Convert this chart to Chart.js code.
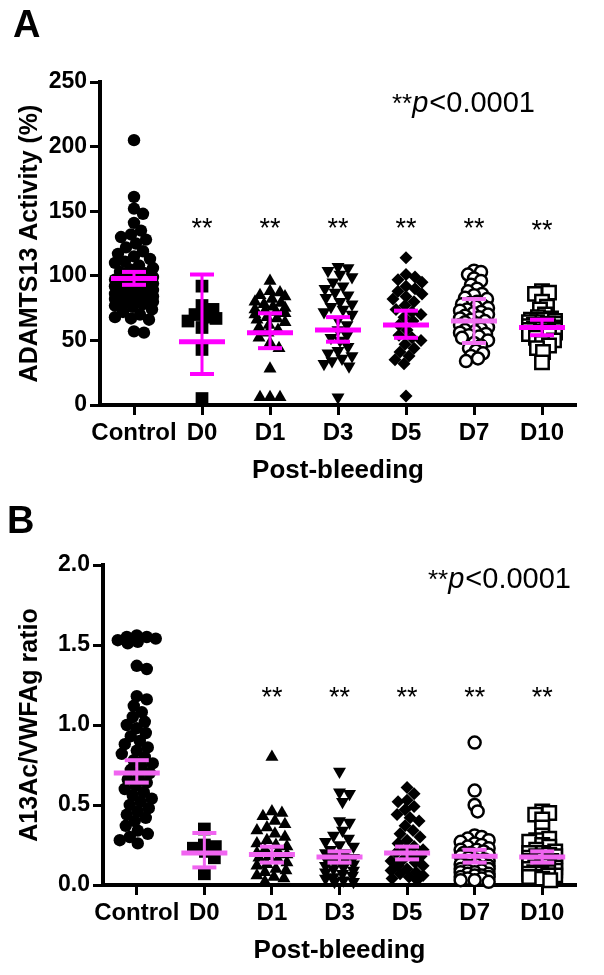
<!DOCTYPE html>
<html>
<head>
<meta charset="utf-8">
<script src="https://cdn.jsdelivr.net/npm/chart.js@4.4.1/dist/chart.umd.min.js"></script>
<style>
  html, body { margin: 0; padding: 0; background: #fff; }
  canvas { position: absolute; left: 0; }
  #chartA { top: 0; }
  #chartB { top: 490px; }
</style>
</head>
<body>
<canvas id="chartA" width="604" height="490"></canvas>
<canvas id="chartB" width="604" height="485"></canvas>
<script>
// Groups on the x axis
const groups = ['Control', 'D0', 'D1', 'D3', 'D5', 'D7', 'D10'];

// Panel A - ADAMTS13 activity (%) per subject
const activityControl = [205, 161, 152, 148, 141, 135, 132, 130, 128, 125, 122, 119, 117, 115, 113, 111, 110, 108, 106, 105,
  103, 102, 100, 99, 98, 97, 96, 95, 94, 93, 92, 91, 90, 89, 88, 87, 86, 85, 84, 84, 83, 82, 81, 80, 79, 78, 77, 76, 74, 72,
  70, 68, 67, 66, 57, 56];
const activityD0 = [92, 77, 74, 70, 68, 67, 65, 60, 43, 5];
const activityD1 = [96, 88, 87, 85, 84, 82, 80, 79, 78, 76, 75, 74, 73, 72, 71, 70, 68, 67, 66, 64, 62, 60, 58, 56, 52, 48,
  44, 28, 6, 6, 6];
const activityD3 = [107, 106, 104, 101, 99, 95, 92, 90, 87, 85, 83, 80, 78, 76, 74, 72, 70, 66, 62, 58, 54, 52, 50, 45, 42,
  40, 38, 36, 34, 32, 30, 6];
const activityD5 = [114, 101, 99, 97, 95, 92, 90, 88, 86, 84, 82, 80, 77, 74, 72, 70, 68, 65, 62, 58, 54, 52, 50, 47, 44, 41,
  38, 35, 32, 7];
const activityD7 = [104, 103, 101, 98, 96, 93, 90, 88, 86, 85, 83, 82, 80, 79, 78, 77, 76, 75, 74, 73, 72, 71, 70, 69, 68,
  67, 66, 65, 64, 63, 62, 61, 60, 59, 58, 57, 56, 55, 54, 53, 52, 50, 48, 46, 44, 42, 40, 38, 36, 34];
const activityD10 = [88, 87, 86, 80, 76, 74, 70, 68, 67, 66, 66, 65, 64, 64, 63, 63, 62, 62, 61, 61, 60, 60, 59, 59, 58, 58,
  57, 57, 56, 56, 55, 55, 54, 52, 50, 48, 46, 44, 41, 33];
// centre line and error bar ends
const activityCentre = [98, 49, 56, 58, 62, 65, 60];
const activityLow = [93, 24, 44, 49, 52, 48, 54];
const activityHigh = [103, 101, 71, 68, 73, 82, 66];
const activityStars = [null, 142, 142, 142, 142, 142, 140];
const activityTicks = [0, 50, 100, 150, 200, 250];

// Panel B - A13Ac/VWFAg ratio per subject
const ratioControl = [1.56, 1.55, 1.55, 1.54, 1.53, 1.52, 1.51, 1.37, 1.35, 1.18, 1.16, 1.12, 1.08, 1.05, 1.02, 1.00, 0.98,
  0.95, 0.93, 0.90, 0.88, 0.86, 0.84, 0.82, 0.80, 0.78, 0.76, 0.74, 0.72, 0.70, 0.68, 0.66, 0.64, 0.62, 0.60, 0.58, 0.56,
  0.54, 0.52, 0.50, 0.48, 0.46, 0.44, 0.42, 0.40, 0.37, 0.34, 0.32, 0.30, 0.28, 0.26];
const ratioD0 = [0.35, 0.25, 0.24, 0.23, 0.21, 0.17, 0.07];
const ratioD1 = [0.80, 0.46, 0.45, 0.43, 0.40, 0.38, 0.36, 0.34, 0.32, 0.30, 0.28, 0.26, 0.25, 0.24, 0.22, 0.21, 0.20, 0.19,
  0.18, 0.17, 0.16, 0.14, 0.13, 0.12, 0.10, 0.09, 0.08, 0.06, 0.05, 0.04, 0.02];
const ratioD3 = [0.71, 0.58, 0.57, 0.52, 0.40, 0.39, 0.34, 0.31, 0.29, 0.27, 0.25, 0.24, 0.22, 0.20, 0.20, 0.18, 0.17, 0.16,
  0.15, 0.14, 0.13, 0.12, 0.11, 0.10, 0.09, 0.08, 0.07, 0.06, 0.05, 0.04, 0.03, 0.02, 0.02];
const ratioD5 = [0.61, 0.57, 0.53, 0.52, 0.49, 0.47, 0.44, 0.42, 0.40, 0.37, 0.34, 0.32, 0.30, 0.28, 0.26, 0.24, 0.22, 0.22,
  0.20, 0.18, 0.18, 0.16, 0.15, 0.14, 0.12, 0.12, 0.10, 0.09, 0.08, 0.07, 0.06, 0.05, 0.04, 0.03];
const ratioD7 = [0.89, 0.59, 0.50, 0.46, 0.31, 0.30, 0.29, 0.28, 0.27, 0.26, 0.25, 0.24, 0.23, 0.22, 0.22, 0.21, 0.20, 0.20,
  0.19, 0.18, 0.18, 0.17, 0.16, 0.16, 0.15, 0.15, 0.14, 0.14, 0.13, 0.13, 0.12, 0.12, 0.11, 0.11, 0.10, 0.10, 0.09, 0.09,
  0.08, 0.08, 0.07, 0.07, 0.06, 0.06, 0.05, 0.05, 0.04, 0.04, 0.03, 0.03, 0.02];
const ratioD10 = [0.46, 0.45, 0.44, 0.41, 0.36, 0.31, 0.29, 0.28, 0.27, 0.25, 0.24, 0.22, 0.21, 0.20, 0.20, 0.19, 0.18, 0.18,
  0.17, 0.16, 0.16, 0.15, 0.15, 0.14, 0.14, 0.13, 0.13, 0.12, 0.12, 0.11, 0.11, 0.10, 0.10, 0.09, 0.09, 0.08, 0.08, 0.07,
  0.07, 0.06, 0.06, 0.05, 0.05, 0.04, 0.03];
const ratioCentre = [0.70, 0.20, 0.19, 0.175, 0.20, 0.18, 0.175];
const ratioLow = [0.64, 0.11, 0.14, 0.14, 0.16, 0.14, 0.14];
const ratioHigh = [0.78, 0.325, 0.24, 0.21, 0.24, 0.22, 0.21];
const ratioStars = [null, null, 1.21, 1.21, 1.21, 1.21, 1.21];
const ratioTicks = [0, 0.5, 1.0, 1.5, 2.0];

const FONT = "Arial, 'Liberation Sans', sans-serif";

// marker look per group (GraphPad style); limit = max sideways spread in px
const markers = [
  { style: 'circle', radius: 6.2, fill: '#000', border: 0, gap: 10, limit: 19 },
  { style: 'rect', radius: 9, fill: '#000', border: 0, gap: 11, limit: 14 },
  { style: 'triangle', radius: 7.5, fill: '#000', border: 0, gap: 10, limit: 15 },
  { style: 'triangle', radius: 7.5, fill: '#000', border: 0, gap: 10, limit: 14, rotation: 180 },
  { style: 'rectRot', radius: 6.5, fill: '#000', border: 0, gap: 9, limit: 16 },
  { style: 'circle', radius: 6, fill: '#fff', border: 2.5, gap: 7, limit: 14 },
  { style: 'rect', radius: 9.5, fill: '#fff', border: 2.5, gap: 7, limit: 13 }
];

// simple beeswarm: spread points sideways (in pixels) so they do not pile up
function swarm(pys, gap, limit) {
  const idx = pys.map((_, i) => i).sort((a, b) => pys[a] - pys[b]);
  const placed = [];
  const offs = new Array(pys.length).fill(0);
  idx.forEach(i => {
    let best = 0, bestCost = Infinity;
    for (let k = 0; k <= 2 * limit; k++) {
      const dx = k === 0 ? 0 : (k % 2 ? (k + 1) / 2 : -k / 2);
      let cost = 0;
      placed.forEach(p => {
        const d = Math.hypot(p.x - dx, p.y - pys[i]);
        if (d < gap) cost += gap - d;
      });
      if (cost === 0) { best = dx; bestCost = 0; break; }
      if (cost < bestCost) { bestCost = cost; best = dx; }
    }
    offs[i] = best;
    placed.push({ x: best, y: pys[i] });
  });
  return offs;
}

// draws panel letter, significance stars and the p value note
const annotate = {
  id: 'annotate',
  afterDraw(chart, args, o) {
    const ctx = chart.ctx;
    const xs = chart.scales.x, ys = chart.scales.y;
    ctx.save();
    ctx.fillStyle = '#000';
    ctx.textBaseline = 'alphabetic';
    ctx.textAlign = 'left';
    ctx.font = `bold 38px ${FONT}`;
    ctx.fillText(o.letter, o.letterX, o.letterY);

    let px = o.pX;
    ctx.font = `26px ${FONT}`;
    ctx.fillText('**', px, o.pY);
    px += ctx.measureText('**').width;
    ctx.font = `italic 29px ${FONT}`;
    ctx.fillText('p', px, o.pY);
    px += ctx.measureText('p').width + 1;
    ctx.font = `29px ${FONT}`;
    ctx.fillText('<0.0001', px, o.pY);

    ctx.font = `27px ${FONT}`;
    ctx.textAlign = 'center';
    o.stars.forEach((v, g) => {
      if (v !== null) ctx.fillText('**', xs.getPixelForValue(g), ys.getPixelForValue(v) + 15);
    });
    ctx.restore();
  }
};

function buildPanel(id, p) {
  const pointSets = p.series.map((vals, g) => ({
    type: 'scatter',
    data: vals.map(v => ({ x: g, y: v })),
    pointStyle: markers[g].style,
    rotation: markers[g].rotation || 0,
    pointRadius: markers[g].radius,
    backgroundColor: markers[g].fill,
    borderColor: '#000',
    borderWidth: markers[g].border,
    clip: false,
    order: 3
  }));
  const barSets = groups.map((_, g) => ({
    type: 'line',
    data: [{ x: g, y: p.low[g] }, { x: g, y: p.high[g] }],
    borderColor: p.colors[g],
    borderWidth: 3,
    pointStyle: 'line',
    pointRadius: 12,
    pointBorderWidth: 4,
    pointBorderColor: p.colors[g],
    clip: false,
    order: 2
  }));
  const centreSet = {
    type: 'scatter',
    data: p.centre.map((v, g) => ({ x: g, y: v })),
    pointStyle: 'line',
    pointRadius: 23,
    pointBorderWidth: 5,
    pointBorderColor: p.colors,
    clip: false,
    order: 1
  };

  const tickFont = { family: FONT, size: 23, weight: 'bold' };
  const grid = { drawOnChartArea: false, drawTicks: true, tickLength: 10, tickWidth: 3, tickColor: '#000' };
  const border = { display: true, color: '#000', width: 4 };

  const chart = new Chart(document.getElementById(id), {
    data: { datasets: [...pointSets, ...barSets, centreSet] },
    options: {
      responsive: false,
      animation: false,
      events: [],
      layout: { padding: p.padding },
      plugins: { legend: { display: false }, tooltip: { enabled: false }, annotate: p.notes },
      scales: {
        x: {
          type: 'linear', min: -0.5, max: 6.5,
          afterBuildTicks: s => { s.ticks = groups.map((_, i) => ({ value: i })); },
          afterFit: s => { s.height = p.xHeight; },
          ticks: { callback: v => groups[v], font: { ...tickFont, size: 24 }, color: '#000', padding: 4, maxRotation: 0, autoSkip: false },
          grid, border,
          title: { display: true, text: 'Post-bleeding', color: '#000', font: { family: FONT, size: 26, weight: 'bold' },
            padding: { top: 0, bottom: p.xTitlePad } }
        },
        y: {
          type: 'linear', min: p.ticks[0], max: p.ticks[p.ticks.length - 1],
          afterBuildTicks: s => { s.ticks = p.ticks.map(v => ({ value: v })); },
          afterFit: s => { s.width = p.yWidth; },
          ticks: { callback: p.fmt, font: tickFont, color: '#000', padding: 3 },
          grid, border,
          title: { display: true, text: p.yTitle, color: '#000', font: { family: FONT, size: 25, weight: 'bold' },
            padding: { top: 15, bottom: 0 } }
        }
      }
    },
    plugins: [annotate]
  });

  // spread the points of each group once the scales are known
  const xs = chart.scales.x, ys = chart.scales.y;
  const unit = xs.getPixelForValue(1) - xs.getPixelForValue(0);
  p.series.forEach((vals, g) => {
    const offs = swarm(vals.map(v => ys.getPixelForValue(v)), markers[g].gap, markers[g].limit);
    chart.data.datasets[g].data = vals.map((v, i) => ({ x: g + offs[i] / unit, y: v }));
  });
  chart.update('none');
  return chart;
}

buildPanel('chartA', {
  series: [activityControl, activityD0, activityD1, activityD3, activityD5, activityD7, activityD10],
  centre: activityCentre, low: activityLow, high: activityHigh,
  colors: ['#ff00ff', '#ff00ff', '#ff00ff', '#ff00ff', '#ff00ff', '#f070f0', '#ff00ff'],
  ticks: activityTicks,
  fmt: v => String(v),
  yTitle: 'ADAMTS13 Activity (%)',
  padding: { top: 82, right: 21, left: 0, bottom: 0 },
  xHeight: 85, xTitlePad: 4, yWidth: 100,
  notes: { letter: 'A', letterX: 13, letterY: 37, pX: 392, pY: 112, stars: activityStars }
});

buildPanel('chartB', {
  series: [ratioControl, ratioD0, ratioD1, ratioD3, ratioD5, ratioD7, ratioD10],
  centre: ratioCentre, low: ratioLow, high: ratioHigh,
  colors: ['#f064f0', '#f064f0', '#f064f0', '#f064f0', '#f064f0', '#f064f0', '#f064f0'],
  ticks: ratioTicks,
  fmt: v => v.toFixed(1),
  yTitle: 'A13Ac/VWFAg ratio',
  padding: { top: 75, right: 9, left: 0, bottom: 0 },
  xHeight: 90, xTitlePad: 9, yWidth: 103,
  notes: { letter: 'B', letterX: 7, letterY: 43, pX: 428, pY: 98, stars: ratioStars }
});
</script>
</body>
</html>
